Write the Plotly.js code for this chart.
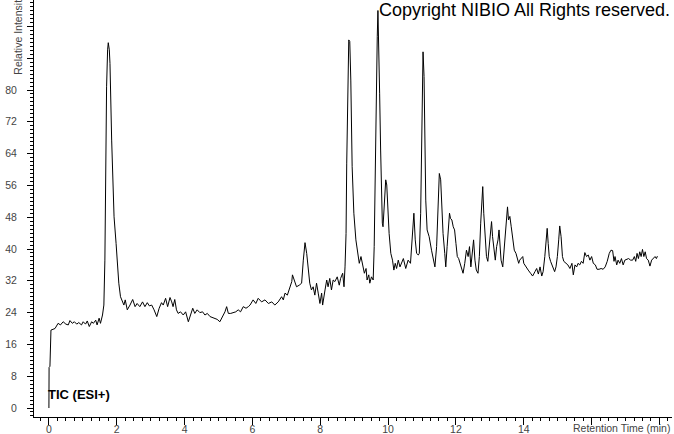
<!DOCTYPE html>
<html>
<head>
<meta charset="utf-8">
<script src="https://cdn.plot.ly/plotly-3.0.1.min.js"></script>
<style>html,body{margin:0;padding:0;background:#fff;}#chart{width:674px;height:434px;}</style>
</head>
<body>
<div id="chart"></div>
<script>
// Retention time (min) and relative intensity
const rtA = [0, 0.005, 0.03, 0.04, 0.06, 0.18, 0.27, 0.34, 0.42, 0.50,
  0.57, 0.62, 0.69, 0.75, 0.82, 0.88, 0.96, 1.01, 1.08, 1.13,
  1.19, 1.26, 1.31, 1.38, 1.42, 1.48, 1.52, 1.58, 1.62, 1.65,
  1.67, 1.70, 1.73, 1.75, 1.78, 1.80, 1.85, 1.88, 1.92, 1.98,
  2.01, 2.06, 2.11, 2.17, 2.21, 2.25, 2.31, 2.39, 2.47, 2.54,
  2.60, 2.68, 2.76, 2.83, 2.90, 2.96, 3.03, 3.10, 3.18, 3.25,
  3.32, 3.37, 3.44, 3.50, 3.57, 3.62, 3.66, 3.71, 3.76, 3.81,
  3.88, 3.96, 4.03, 4.11, 4.18, 4.24, 4.30, 4.37, 4.45, 4.53,
  4.60, 4.67, 4.75, 4.83, 4.89, 4.96, 5.04, 5.12, 5.19, 5.24,
  5.29, 5.36, 5.43, 5.51, 5.58, 5.65, 5.73, 5.81, 5.88];
const intA = [0, 10.2, 10.5, 19.5, 19.6, 20.0, 21.3, 20.9, 21.7, 21.1,
  20.9, 22.0, 21.3, 21.7, 21.1, 21.5, 20.9, 21.7, 21.1, 21.9,
  20.5, 21.7, 21.3, 22.1, 20.9, 22.6, 21.3, 23.4, 25.9, 37.2,
  59.9, 80.8, 90.1, 91.9, 90.1, 86.7, 67.4, 55.7, 48.1, 41.4,
  36.4, 31.4, 28.0, 26.7, 25.9, 27.2, 24.7, 25.9, 27.3, 25.5,
  26.3, 25.5, 26.7, 25.5, 26.5, 25.7, 25.9, 24.7, 23.0, 25.1,
  26.5, 25.9, 27.6, 25.5, 27.8, 26.7, 25.5, 27.3, 24.7, 23.8,
  24.2, 23.4, 24.2, 21.7, 23.8, 25.1, 23.8, 24.7, 24.0, 24.2,
  23.4, 23.8, 23.0, 22.8, 22.6, 22.3, 21.7, 23.0, 24.2, 25.5,
  23.8, 23.8, 24.0, 24.2, 24.7, 24.2, 25.5, 25.1, 25.5];

const rtB = [5.93, 6.02, 6.10, 6.17, 6.27, 6.37, 6.47, 6.57, 6.66, 6.76,
  6.86, 6.91, 6.96, 7.03, 7.11, 7.16, 7.18, 7.23, 7.30, 7.38,
  7.45, 7.50, 7.55, 7.60, 7.64, 7.69, 7.74, 7.79, 7.84, 7.89,
  7.94, 7.99, 8.04, 8.07, 8.14, 8.19, 8.23, 8.28, 8.33, 8.38,
  8.43, 8.50, 8.56, 8.60, 8.66, 8.70, 8.73, 8.76, 8.78, 8.81,
  8.84, 8.87, 8.90, 8.94, 8.99, 9.05, 9.10, 9.15, 9.20, 9.25,
  9.30, 9.35, 9.38, 9.43, 9.46, 9.51, 9.56, 9.59, 9.62, 9.65,
  9.68, 9.70, 9.72, 9.75, 9.78, 9.81, 9.83, 9.85, 9.87, 9.90,
  9.93, 9.96, 9.99, 10.03, 10.08, 10.13, 10.17, 10.21, 10.25, 10.30];
const intB = [25.9, 27.2, 26.3, 27.6, 26.7, 27.2, 26.3, 26.7, 25.9, 26.7,
  28.0, 27.2, 28.9, 28.4, 30.5, 31.8, 33.5, 32.2, 30.5, 30.9,
  31.4, 37.2, 41.6, 38.9, 35.5, 31.4, 29.7, 30.5, 28.4, 31.4,
  28.9, 26.3, 28.9, 25.9, 29.7, 32.2, 30.5, 32.6, 29.7, 32.2,
  31.8, 33.0, 30.9, 32.6, 33.9, 30.5, 35.5, 43.9, 61.6, 81.7,
  92.6, 92.2, 82.5, 60.7, 49.0, 42.3, 38.9, 36.4, 38.1, 35.5,
  33.9, 35.1, 32.2, 33.5, 31.4, 33.0, 32.2, 40.6, 60.7, 81.7,
  93.4, 100, 94.2, 79.2, 64.9, 52.3, 46.5, 45.6, 49.0, 55.7,
  57.4, 56.1, 50.6, 43.9, 38.9, 37.2, 34.7, 36.4, 35.1, 37.2];

const rtC = [10.35, 10.45, 10.52, 10.59, 10.66, 10.72, 10.76, 10.80, 10.84, 10.89,
  10.92, 10.96, 10.99, 11.01, 11.03, 11.06, 11.08, 11.11, 11.15, 11.21,
  11.28, 11.33, 11.38, 11.43, 11.48, 11.51, 11.55, 11.59, 11.62, 11.67,
  11.70, 11.74, 11.78, 11.81, 11.84, 11.88, 11.92, 11.96, 12.00, 12.04,
  12.08, 12.12, 12.17, 12.21, 12.26, 12.31, 12.36, 12.40, 12.44, 12.48,
  12.52, 12.56, 12.60, 12.65, 12.69, 12.73, 12.77, 12.79, 12.82, 12.86,
  12.90, 12.94, 12.98, 13.02, 13.05, 13.08, 13.12, 13.16, 13.20, 13.24,
  13.27, 13.30, 13.33, 13.38, 13.41, 13.45, 13.49, 13.52, 13.55, 13.59,
  13.63, 13.67, 13.72, 13.77, 13.81, 13.85];
const intC = [35.5, 37.6, 35.1, 37.2, 36.4, 43.9, 49.0, 42.3, 38.9, 38.5,
  38.9, 49.0, 64.1, 84.2, 89.6, 83.4, 64.1, 52.3, 44.8, 43.1,
  39.7, 37.2, 35.5, 40.6, 54.8, 59.0, 57.4, 49.0, 43.9, 38.9,
  35.5, 40.6, 46.5, 49.0, 47.7, 47.3, 45.6, 44.8, 41.4, 38.1,
  37.6, 36.4, 34.7, 33.9, 36.4, 39.7, 38.1, 40.6, 35.5, 38.9,
  42.3, 37.2, 34.7, 33.9, 38.1, 46.5, 52.3, 55.7, 49.0, 42.3,
  38.1, 36.9, 41.4, 45.6, 46.9, 43.1, 40.6, 37.2, 40.6, 42.3,
  44.8, 40.6, 37.2, 35.5, 38.9, 43.1, 48.2, 50.6, 47.3, 48.2,
  45.6, 42.3, 39.7, 38.9, 37.2, 36.4];

const rtD = [13.88, 13.97, 14.00, 14.06, 14.13, 14.20, 14.26, 14.33, 14.38, 14.43,
  14.48, 14.53, 14.57, 14.62, 14.65, 14.69, 14.72, 14.75, 14.79, 14.85,
  14.91, 14.95, 14.99, 15.03, 15.06, 15.10, 15.14, 15.18, 15.24, 15.30,
  15.36, 15.42, 15.46, 15.51, 15.56, 15.60, 15.65, 15.70, 15.75, 15.80,
  15.85, 15.90, 15.95, 16.00, 16.05, 16.11, 16.16, 16.22, 16.28, 16.34,
  16.40, 16.46, 16.52, 16.57, 16.62, 16.66, 16.69, 16.74, 16.78, 16.83,
  16.88, 16.93, 16.98, 17.03, 17.09, 17.15, 17.21, 17.26, 17.30, 17.34,
  17.38, 17.42, 17.46, 17.50, 17.54, 17.58, 17.62, 17.67, 17.72, 17.77,
  17.82, 17.87, 17.91, 17.94];
const intD = [37.2, 38.1, 36.4, 35.5, 34.7, 33.9, 33.2, 34.3, 35.1, 33.7,
  35.5, 33.2, 34.3, 38.1, 42.3, 45.2, 41.4, 38.1, 36.9, 35.5,
  34.3, 35.5, 38.1, 42.3, 45.8, 43.1, 38.1, 36.9, 36.4, 36.0,
  35.1, 36.4, 33.5, 36.0, 35.5, 36.4, 36.0, 36.9, 36.4, 39.1,
  38.1, 38.5, 37.2, 38.1, 36.4, 36.0, 34.9, 34.9, 35.1, 34.9,
  35.5, 36.9, 38.9, 39.7, 39.6, 36.9, 38.1, 36.0, 37.2, 36.4,
  37.6, 36.0, 37.2, 37.4, 37.6, 37.2, 37.2, 38.1, 36.9, 38.9,
  37.6, 39.3, 38.1, 39.9, 38.1, 39.3, 37.6, 37.2, 35.7, 37.2,
  37.6, 38.1, 37.6, 38.2];

const xTickVals = [0, 2, 4, 6, 8, 10, 12, 14, 16, 18];
const xTickText = ['0', '2', '4', '6', '8', '10', '12', '14', '', ''];
const xMidTicks = [1, 3, 5, 7, 9, 11, 13, 15, 17];
const yTickVals = [0, 8, 16, 24, 32, 40, 48, 56, 64, 72, 80, 88, 96];
const yTickText = ['0', '8', '16', '24', '32', '40', '48', '56', '64', '72', '80', '', ''];

const titleText = 'Copyright NIBIO All Rights reserved.';
const traceLabel = 'TIC (ESI+)';
const xLabel = 'Retention Time (min)';
const yLabel = 'Relative Intensity';

const rt = rtA.concat(rtB, rtC, rtD);
const intensity = intA.concat(intB, intC, intD);

const FONT = 'Liberation Sans, Arial, sans-serif';
const xRange = [-0.44, 18.37];
const yRange = [-2.26, 102.64];

const data = [{
  x: rt, y: intensity, type: 'scatter', mode: 'lines',
  line: {color: '#000', width: 1}, hoverinfo: 'skip'
}];

const layout = {
  width: 674, height: 434,
  margin: {l: 34, r: 2, t: 0, b: 17, pad: 0},
  paper_bgcolor: '#fff', plot_bgcolor: '#fff',
  showlegend: false,
  font: {family: FONT, size: 10.5, color: '#444'},
  xaxis: {
    range: xRange, showgrid: false, zeroline: false,
    showline: true, linecolor: '#000', linewidth: 1,
    tickmode: 'array', tickvals: xTickVals, ticktext: xTickText,
    ticks: 'outside', ticklen: 7, tickcolor: '#000', tickwidth: 1,
    ticklabelstandoff: -5,
    tickfont: {family: FONT, size: 10.5, color: '#444'},
    minor: {tickmode: 'linear', tick0: 0, dtick: 0.25, ticks: 'outside', ticklen: 3, tickcolor: '#000', showgrid: false}
  },
  xaxis2: {
    overlaying: 'x', range: xRange, showgrid: false, zeroline: false, showline: false,
    tickmode: 'array', tickvals: xMidTicks, ticks: 'outside', ticklen: 5, tickcolor: '#000',
    showticklabels: false
  },
  yaxis: {
    range: yRange, showgrid: false, zeroline: false,
    showline: true, linecolor: '#000', linewidth: 1,
    tickmode: 'array', tickvals: yTickVals, ticktext: yTickText,
    ticks: 'outside', ticklen: 6, tickcolor: '#000', tickwidth: 1,
    ticklabelstandoff: 8,
    tickfont: {family: FONT, size: 10.5, color: '#444'},
    minor: {tickmode: 'linear', tick0: 0, dtick: 1, ticks: 'outside', ticklen: 3, tickcolor: '#000', showgrid: false}
  },
  annotations: [
    {text: titleText, xref: 'paper', yref: 'paper', x: 0.537, y: 0.977,
     xanchor: 'left', yanchor: 'middle', showarrow: false,
     font: {family: FONT, size: 18, color: '#000'}},
    {text: traceLabel, xref: 'paper', yref: 'paper', x: 0.019, y: 0.055,
     xanchor: 'left', yanchor: 'middle', showarrow: false,
     font: {family: FONT, size: 13, color: '#000', weight: 'bold'}},
    {text: xLabel, xref: 'paper', yref: 'paper', x: 1.0, y: -0.027,
     xanchor: 'right', yanchor: 'middle', showarrow: false,
     font: {family: FONT, size: 10.5, color: '#444'}},
    {text: yLabel, xref: 'paper', yref: 'paper', x: -0.025, y: 0.917,
     xanchor: 'center', yanchor: 'middle', showarrow: false, textangle: -90,
     font: {family: FONT, size: 10.5, color: '#444'}}
  ]
};

Plotly.newPlot('chart', data, layout, {displayModeBar: false, staticPlot: true});
</script>
</body>
</html>
